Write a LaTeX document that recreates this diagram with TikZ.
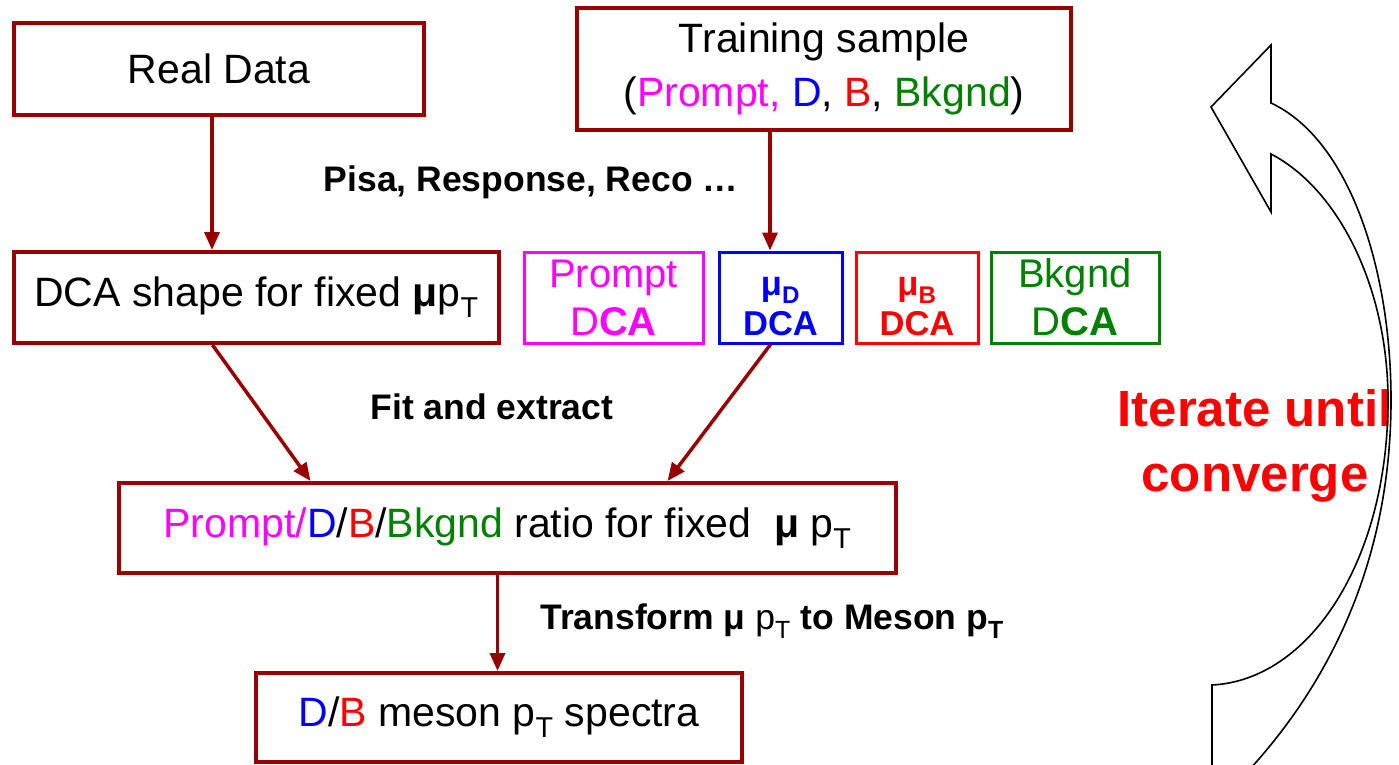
\documentclass[tikz,border=0pt]{standalone}
\usepackage{fontspec}
\setmainfont{Liberation Sans}
\usetikzlibrary{arrows.meta}
\definecolor{boxred}{RGB}{153,0,0}
\definecolor{mag}{RGB}{255,0,255}
\definecolor{blu}{RGB}{0,0,255}
\definecolor{rd}{RGB}{255,0,0}
\definecolor{grn}{RGB}{0,128,0}
\newcommand{\fsBody}{\fontsize{41pt}{54pt}\selectfont}
\newcommand{\fsLabel}{\fontsize{35.5pt}{40pt}\selectfont\bfseries}
\begin{document}
\begin{tikzpicture}[x=1pt,y=-1pt,
  mainbox/.style={draw=boxred, line width=4pt, inner sep=0pt, font=\fsBody, align=center},
  smallbox/.style={draw, line width=3pt, inner sep=0pt, align=center, minimum height=91pt},
  arr/.style={draw=boxred, line width=3.5pt, -{Triangle[length=18pt,width=15pt]}},
  lbl/.style={font=\fsLabel, inner sep=0pt}
]
\useasboundingbox (0,0) rectangle (1399,765);
\clip (0,0) rectangle (1399,765);

% main boxes
\node[mainbox, minimum width=410pt, minimum height=92pt] (real) at (219,69) {Real Data};
\node[mainbox, minimum width=494pt, minimum height=122pt] (train) at (824,69)
  {Training sample\\({\color{mag}Prompt, }{\color{blu}D}, {\color{rd}B}, {\color{grn}Bkgnd})};
\node[mainbox, minimum width=485pt, minimum height=91pt] (dcashape) at (256.5,297.5)
  {DCA shape for fixed \textbf{μ}p\textsubscript{T}};
\node[mainbox, minimum width=777pt, minimum height=90pt] (ratio) at (507.5,528)
  {{\color{mag}Prompt/}{\color{blu}D}/{\color{rd}B}/{\color{grn}Bkgnd} ratio for fixed \ \textbf{μ} p\textsubscript{T}};
\node[mainbox, minimum width=486pt, minimum height=89pt] (spectra) at (499,717.5)
  {{\color{blu}D}/{\color{rd}B} meson p\textsubscript{T} spectra};

% small boxes
\node[smallbox, draw=mag, text=mag, minimum width=179pt, font=\fontsize{40pt}{48pt}\selectfont] (prompt) at (613.5,297.5)
  {Prompt\\D\textbf{CA}};
\node[smallbox, draw=blu, text=blu, minimum width=123pt, font=\fontsize{34.5pt}{40pt}\selectfont\bfseries] (muD) at (780.5,297.5)
  {\rule{0pt}{36pt}μ\textsubscript{D}\\DCA};
\node[smallbox, draw=rd, text=rd, minimum width=122pt, font=\fontsize{34.5pt}{40pt}\selectfont\bfseries] (muB) at (917,297.5)
  {\rule{0pt}{36pt}μ\textsubscript{B}\\DCA};
\node[smallbox, draw=grn, text=grn, minimum width=168pt, font=\fontsize{40pt}{48pt}\selectfont] (bkg) at (1075,297.5)
  {Bkgnd\\D\textbf{CA}};

% labels
\node[lbl] (pisa) at (531,182) {Pisa, Response, Reco …};
\node[lbl] (fit) at (492,407) {Fit and extract};
\node[lbl] (transf) at (772,621) {Transform μ \mdseries p\textsubscript{T} \bfseries to Meson p\textsubscript{T}};

% arrows
\draw[arr] ([xshift=-7pt]real.south) -- ([xshift=-7pt]real.south |- dcashape.north);
\draw[arr] ([xshift=-54pt]train.south) -- ([xshift=-54pt]train.south |- muD.north);
\draw[arr] ([xshift=-44pt]dcashape.south) -- ([xshift=-197pt]ratio.north);
\draw[arr] ([xshift=-10pt]muD.south) -- ([xshift=160pt]ratio.north);
\draw[arr] ([xshift=-10pt]ratio.south) -- ([xshift=-10pt]ratio.south |- spectra.north);

% iterate text
\node[text=rd, font=\fontsize{51pt}{65pt}\selectfont\bfseries, align=center] (iter) at (1255,446)
  {Iterate until\\converge};

% curved block arrow
\draw[line width=1.6pt, line join=miter]
  (1212,790) -- (1212,685)
  .. controls (1310,680) and (1388,560) .. (1388,400)
  .. controls (1388,290) and (1340,190) .. (1271,154)
  -- (1271,212) -- (1211,107) -- (1271,45) -- (1271,103)
  .. controls (1350,140) and (1391,270) .. (1391,400)
  .. controls (1391,560) and (1330,690) .. (1230,790) -- cycle;
\end{tikzpicture}
\end{document}
